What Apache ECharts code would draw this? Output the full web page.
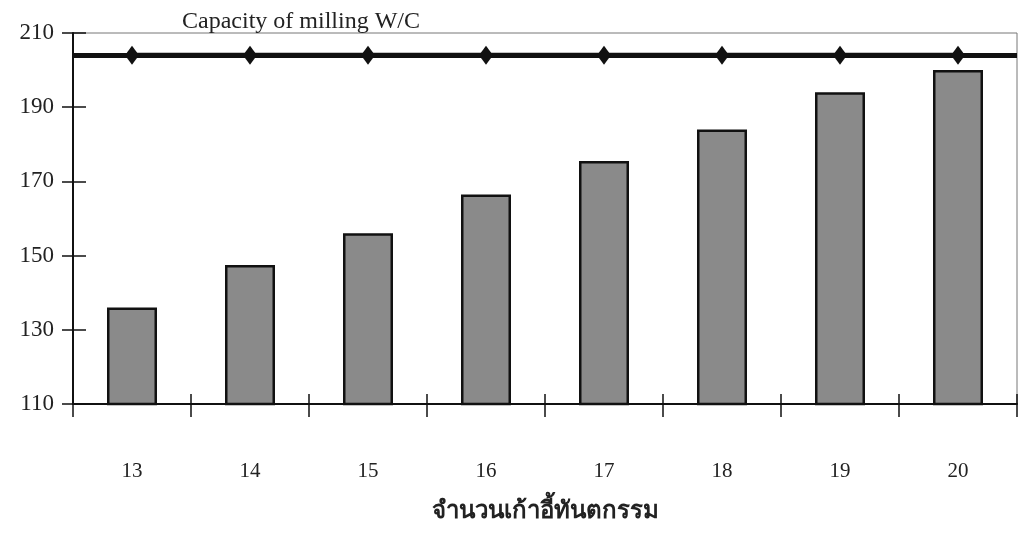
<!DOCTYPE html>
<html>
<head>
<meta charset="utf-8">
<script src="https://cdn.jsdelivr.net/npm/echarts@6/dist/echarts.min.js"></script>
<style>
html,body{margin:0;padding:0;background:#fff;}
#c{width:1023px;height:538px;}
</style>
</head>
<body>
<div id="c"></div>
<script>
const categories = ['13','14','15','16','17','18','19','20'];
const usage = [136, 147.5, 156, 166.5, 175.5, 184, 194, 200];
const capacity = [204, 204, 204, 204, 204, 204, 204, 204];
const titleText = 'Capacity of milling W/C';
const xName = 'จำนวนเก้าอี้ทันตกรรม';

const serif = "'Liberation Serif', 'Times New Roman', serif";
const chart = echarts.init(document.getElementById('c'));
chart.setOption({
  backgroundColor: '#fff',
  animation: false,
  title: {
    text: titleText,
    left: 177, top: 5,
    textStyle: { fontFamily: serif, fontWeight: 'normal', fontSize: 24, color: '#222' }
  },
  grid: { left: 73, right: 6, top: 33, bottom: 134, show: true, borderColor: '#777', borderWidth: 1 },
  xAxis: [
    {
      type: 'category', data: categories, position: 'bottom',
      axisLine: { lineStyle: { color: '#111', width: 2 } },
      axisTick: { show: true, length: 13, lineStyle: { color: '#111', width: 1.5 } },
      axisLabel: { margin: 57, fontSize: 21, fontFamily: serif, color: '#222' },
      name: xName, nameLocation: 'middle', nameGap: 96,
      nameTextStyle: { fontSize: 24, fontWeight: 'bold', fontFamily: serif, color: '#222' }
    },
    {
      type: 'category', data: categories, position: 'bottom',
      axisLine: { show: false },
      axisTick: { show: true, inside: true, length: 10, lineStyle: { color: '#111', width: 1.5 } },
      axisLabel: { show: false }
    }
  ],
  yAxis: [
    {
      type: 'value', min: 110, max: 210, interval: 20, position: 'left',
      axisLine: { show: true, lineStyle: { color: '#111', width: 2 } },
      axisTick: { show: true, length: 11, lineStyle: { color: '#111', width: 1.5 } },
      axisLabel: { margin: 19, fontSize: 23, fontFamily: serif, color: '#222' },
      splitLine: { show: false }
    },
    {
      type: 'value', min: 110, max: 210, interval: 20, position: 'left',
      axisLine: { show: false },
      axisTick: { show: true, inside: true, length: 13, lineStyle: { color: '#111', width: 1.5 } },
      axisLabel: { show: false },
      splitLine: { show: false }
    }
  ],
  series: [
    {
      type: 'bar', data: usage, barWidth: 50, xAxisIndex: 0, yAxisIndex: 0,
      itemStyle: { color: '#8a8a8a', borderColor: '#111', borderWidth: 2.5 }
    },
    {
      type: 'line', data: capacity, xAxisIndex: 0, yAxisIndex: 0,
      symbol: 'diamond', symbolSize: [14, 19],
      lineStyle: { color: '#111', width: 5 },
      itemStyle: { color: '#111' },
      markLine: {
        silent: true, symbol: 'none', label: { show: false },
        lineStyle: { color: '#111', width: 5, type: 'solid' },
        data: [{ yAxis: capacity[0] }]
      },
      z: 5
    }
  ]
});
</script>
</body>
</html>
